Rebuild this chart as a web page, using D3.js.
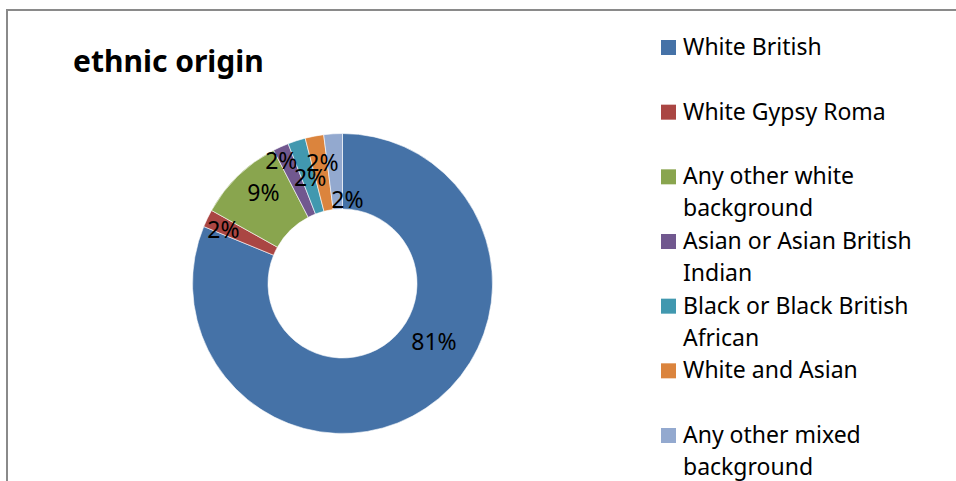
<!DOCTYPE html>
<html>
<head>
<meta charset="utf-8">
<script src="https://cdn.jsdelivr.net/npm/d3@7"></script>
<style>
  body { margin: 0; background: #fff; }
  svg { display: block; }
  text { font-family: "Noto Sans", "Open Sans", sans-serif; fill: #000; }
</style>
</head>
<body>
<svg id="chart" width="956" height="481"></svg>
<script>
var categories = [
  "White British",
  "White Gypsy Roma",
  "Any other white background",
  "Asian or Asian British Indian",
  "Black or Black British African",
  "White and Asian",
  "Any other mixed background"
];
var values = [81.2, 1.9, 9.3, 1.7, 1.9, 2.0, 2.0];
var colors = ["#4572A7", "#AA4643", "#89A54E", "#71588F", "#4198AF", "#DB843D", "#93A9CF"];
// legend lines, as they wrap in the original
var legendLines = [
  ["White British"],
  ["White Gypsy Roma"],
  ["Any other white", "background"],
  ["Asian or Asian British", "Indian"],
  ["Black or Black British", "African"],
  ["White and Asian"],
  ["Any other mixed", "background"]
];
// excel moved some labels off the centroid to avoid overlaps
var labelNudge = [[29, -35], [-18, -5], [-1, -10], [-15, -20], [2, 1], [1, -11], [12, 28]];

var W = 956, H = 481;
var cx = 342.5, cy = 283.5, rOuter = 150, rInner = 74.5;

var svg = d3.select("#chart");

// chart frame (only top and left edges show in the crop)
svg.append("path")
  .attr("d", "M7," + H + "V10H" + W)
  .attr("fill", "none")
  .attr("stroke", "#8a8a8a")
  .attr("stroke-width", 2);

svg.append("text")
  .attr("x", 73)
  .attr("y", 72)
  .style("font-weight", "bold")
  .style("font-size", "30px")
  .text("ethnic origin");

var pie = d3.pie().sort(null).value(function(d) { return d; });
var arc = d3.arc().innerRadius(rInner).outerRadius(rOuter);
var labelArc = d3.arc().innerRadius((rInner + rOuter) / 2).outerRadius((rInner + rOuter) / 2);

var g = svg.append("g").attr("transform", "translate(" + cx + "," + cy + ")");
var arcs = pie(values);

g.selectAll("path.slice")
  .data(arcs)
  .enter()
  .append("path")
  .attr("class", "slice")
  .attr("d", arc)
  .attr("fill", function(d, i) { return colors[i]; })
  .attr("stroke", "#fff")
  .attr("stroke-width", 0.6);

g.selectAll("text.lbl")
  .data(arcs)
  .enter()
  .append("text")
  .attr("class", "lbl")
  .attr("text-anchor", "middle")
  .attr("dy", "0.36em")
  .style("font-size", "23px")
  .attr("transform", function(d, i) {
    var c = labelArc.centroid(d);
    return "translate(" + (c[0] + labelNudge[i][0]) + "," + (c[1] + labelNudge[i][1]) + ")";
  })
  .text(function(d) { return Math.round(d.data) + "%"; });

// legend
var legY = d3.scaleLinear().domain([0, categories.length - 1]).range([55, 443]);
var leg = svg.append("g").attr("class", "legend");
var item = leg.selectAll("g.item")
  .data(categories)
  .enter()
  .append("g")
  .attr("class", "item")
  .attr("transform", function(d, i) { return "translate(661," + legY(i) + ")"; });

item.append("rect")
  .attr("x", 0)
  .attr("y", -15)
  .attr("width", 15)
  .attr("height", 15)
  .attr("fill", function(d, i) { return colors[i]; });

item.append("text")
  .attr("x", 22)
  .style("font-size", "23px")
  .selectAll("tspan")
  .data(function(d, i) { return legendLines[i]; })
  .enter()
  .append("tspan")
  .attr("x", 22)
  .attr("dy", function(d, j) { return j ? 32 : 0; })
  .text(function(d) { return d; });
</script>
</body>
</html>
